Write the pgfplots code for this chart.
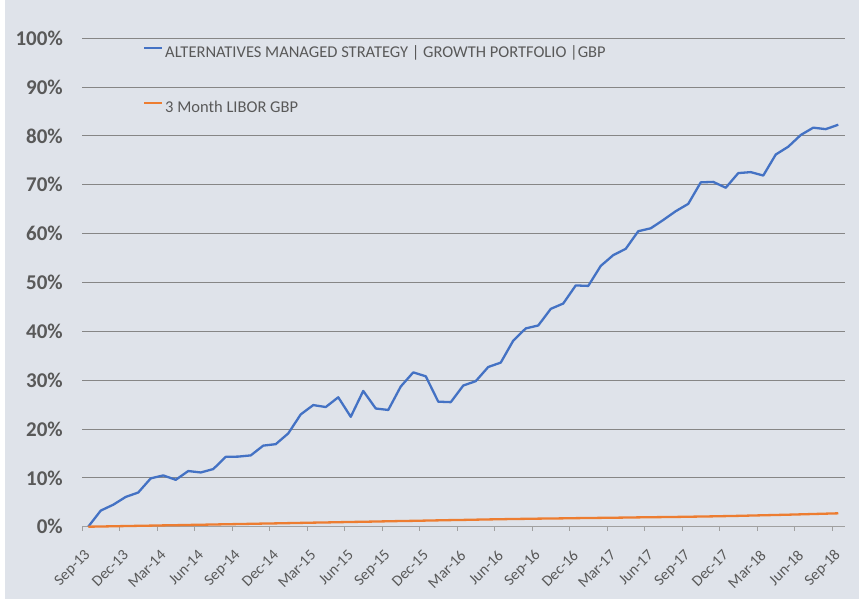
\documentclass[border=0pt]{standalone}
\usepackage{pgfplots}
\pgfplotsset{compat=1.18}
\usepackage{fontspec}
\setmainfont{Carlito}
\definecolor{bgc}{HTML}{DFE3EA}
\definecolor{txt}{HTML}{595959}
\definecolor{gridc}{HTML}{868686}
\definecolor{axc}{HTML}{A0A0A0}
\definecolor{sblue}{HTML}{4472C4}
\definecolor{sorange}{HTML}{ED7D31}

\pgfplotstableread{
i ams
0 0.0
1 3.3
2 4.5
3 6.1
4 7.0
5 9.9
6 10.5
7 9.6
8 11.4
9 11.1
10 11.8
11 14.3
12 14.35
13 14.6
14 16.6
15 16.9
16 19.1
17 23.0
18 24.9
19 24.5
20 26.5
21 22.5
22 27.8
23 24.2
24 23.9
25 28.7
26 31.6
27 30.8
28 25.6
29 25.5
30 28.9
31 29.8
32 32.7
33 33.6
34 38.1
35 40.6
36 41.2
37 44.6
38 45.7
39 49.4
40 49.3
41 53.4
42 55.6
43 56.9
44 60.5
45 61.1
46 62.8
47 64.6
48 66.1
49 70.5
50 70.6
51 69.4
52 72.4
53 72.6
54 71.9
55 76.2
56 77.8
57 80.2
58 81.7
59 81.4
60 82.3
}\amsdata

\pgfplotstableread{
i libor
0 0.00
1 0.04
2 0.09
3 0.13
4 0.18
5 0.22
6 0.27
7 0.31
8 0.36
9 0.40
10 0.45
11 0.50
12 0.54
13 0.59
14 0.64
15 0.68
16 0.73
17 0.78
18 0.83
19 0.87
20 0.92
21 0.97
22 1.01
23 1.06
24 1.11
25 1.16
26 1.20
27 1.25
28 1.30
29 1.35
30 1.39
31 1.44
32 1.49
33 1.53
34 1.58
35 1.61
36 1.65
37 1.68
38 1.71
39 1.75
40 1.78
41 1.81
42 1.84
43 1.87
44 1.91
45 1.94
46 1.97
47 2.00
48 2.04
49 2.08
50 2.12
51 2.17
52 2.22
53 2.28
54 2.34
55 2.40
56 2.46
57 2.53
58 2.60
59 2.67
60 2.74
}\libordata

\begin{document}
\begin{tikzpicture}
\useasboundingbox (0,0) rectangle (859pt,602pt);
\fill[white] (0,0) rectangle (859pt,602pt);
\fill[bgc] (5pt,3pt) rectangle (859pt,602pt);
\begin{axis}[
  at={(82pt,75.3pt)}, anchor=south west,
  scale only axis, width=762.5pt, height=488.4pt,
  xmin=-0.5, xmax=60.5, ymin=0, ymax=100,
  axis x line*=bottom, axis y line*=left,
  x axis line style={-, draw=axc, line width=1pt},
  y axis line style={draw=none},
  xtick={0,3,...,60},
  xticklabels={Sep-13,Dec-13,Mar-14,Jun-14,Sep-14,Dec-14,Mar-15,Jun-15,Sep-15,Dec-15,Mar-16,Jun-16,Sep-16,Dec-16,Mar-17,Jun-17,Sep-17,Dec-17,Mar-18,Jun-18,Sep-18},
  minor xtick={-0.5,2.5,...,59.5},
  major tick length=0pt, minor tick length=4pt, tick align=outside,
  minor x tick style={draw=axc, line width=1pt},
  ytick={0,10,...,100},
  yticklabels={0\%,10\%,20\%,30\%,40\%,50\%,60\%,70\%,80\%,90\%,100\%},
  ymajorgrids, grid style={draw=gridc, line width=1pt},
  yticklabel style={font=\bfseries\fontsize{21}{25}\selectfont, text=txt, inner sep=0pt, anchor=east, xshift=-19pt},
  xticklabel style={font=\fontsize{15.5}{18}\selectfont, text=txt, inner sep=0pt, yshift=-26pt, rotate=45, anchor=east},
  legend cell align=left,
  legend style={at={(0.08,1)}, anchor=north west, yshift=-6.2pt, draw=none, fill=none,
    font=\fontsize{16.5}{19}\selectfont, text=txt, inner sep=0pt, row sep=38.5pt, column sep=2pt,
    nodes={inner sep=0pt, text height=12.5pt, text depth=4pt}},
  legend image code/.code={\draw[#1, line width=2pt] (0pt,4.5pt) -- (18pt,4.5pt);},
  clip=false,
]
\addplot[sblue, line width=2.3pt, line join=round] table[x=i, y=ams] {\amsdata};
\addlegendentry{ALTERNATIVES MANAGED STRATEGY | GROWTH PORTFOLIO |GBP}
\addplot[sorange, line width=2.3pt, line join=round] table[x=i, y=libor] {\libordata};
\addlegendentry{3 Month LIBOR GBP}
\end{axis}
\end{tikzpicture}
\end{document}
